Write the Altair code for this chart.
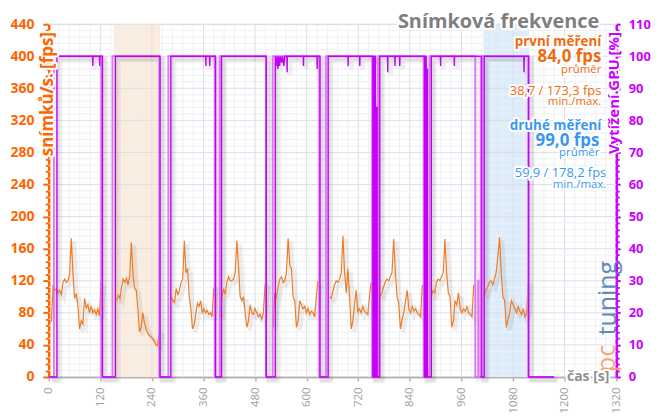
import altair as alt
import numpy as np
import pandas as pd

FONT = "Open Sans"

# ---------------- data ----------------
run_starts = [6.2, 158, 285, 399, 522, 653.5, 771, 890, 1013]
run_ends = [121.8, 260.5, 387.6, 507, 626.4, 749.8, 869, 988.6, 1115.8]

fps_run1 = [69, 115, 108, 110, 105, 108, 103, 118, 122, 118, 120, 128, 173, 130, 98, 104,
            88, 60, 70, 66, 98, 86, 90, 80, 88, 80, 84, 78, 85, 76, 119]
fps_run2 = [95, 102, 98, 112, 122, 118, 123, 115, 126, 168, 128, 110, 108, 85, 56, 62,
            80, 68, 60, 55, 52, 50, 48, 45, 40, 39, 52, 58]
fps_run3 = [100, 95, 93, 110, 103, 108, 118, 122, 170, 130, 135, 100, 85, 60, 65, 78,
            92, 88, 95, 80, 85, 80, 83, 78, 80, 75, 110, 115]
fps_run4 = [75, 100, 110, 103, 118, 125, 120, 120, 122, 130, 170, 138, 100, 95, 100, 80,
            62, 70, 90, 80, 78, 85, 80, 75, 78, 72, 80, 115, 112]
fps_run5 = [62, 105, 100, 112, 122, 125, 118, 120, 130, 173, 140, 135, 100, 95, 62, 70,
            95, 90, 85, 88, 80, 85, 78, 82, 80, 75, 100, 120]
fps_run6 = [100, 98, 108, 115, 120, 118, 122, 130, 176, 130, 105, 135, 100, 60, 70, 90,
            108, 80, 85, 80, 88, 82, 80, 78, 100, 118]
fps_run7 = [100, 105, 112, 118, 122, 120, 125, 130, 172, 130, 100, 92, 60, 72, 80, 95,
            108, 85, 80, 88, 82, 85, 80, 78, 75, 115]
fps_run8 = [100, 108, 105, 118, 122, 120, 125, 130, 172, 130, 105, 100, 62, 70, 95, 90,
            105, 85, 80, 85, 82, 88, 80, 78, 75, 115]
fps_run9 = [100, 108, 112, 118, 120, 115, 122, 130, 150, 174, 130, 100, 95, 62, 72, 80,
            95, 90, 85, 80, 88, 82, 78, 85, 75, 80, 120]
fps_runs = [fps_run1, fps_run2, fps_run3, fps_run4, fps_run5, fps_run6, fps_run7, fps_run8, fps_run9]

gpu1_t = [0, 19, 19, 102, 102.5, 103, 118, 118.5, 119, 125, 125,
          155, 155, 259, 259,
          284, 284, 365, 365.5, 366, 374, 374.5, 375, 388, 388,
          402, 402, 506, 506,
          527, 527, 529, 531, 533, 535, 537, 539, 542, 544, 547, 549, 554, 554.5, 555,
          592, 592.5, 593, 624, 624.5, 625, 631, 631,
          650, 650, 696, 696.5, 697, 723, 723.5, 724, 754, 754,
          755, 755, 756, 756, 757, 757, 758, 758, 759, 759, 760, 760, 763, 763, 764, 764,
          770, 770, 788, 788.5, 789, 805, 805.5, 806, 816, 816.5, 817, 874, 874,
          875, 875, 876, 876, 877, 877, 878, 878, 880, 880, 881, 881,
          890, 890, 911, 911.5, 912, 943, 943.5, 944, 1006, 1006,
          1013, 1013, 1105, 1105.5, 1106, 1116.5, 1116.5, 1176]
gpu1_v = [0, 0, 100, 100, 97, 100, 100, 97, 100, 100, 0,
          0, 100, 100, 0,
          0, 100, 100, 97, 100, 100, 97, 100, 100, 0,
          0, 100, 100, 0,
          0, 100, 97, 100, 96, 100, 97, 100, 98, 100, 97, 100, 100, 95, 100,
          100, 97, 100, 100, 96, 100, 100, 0,
          0, 100, 100, 97, 100, 100, 97, 100, 100, 0,
          0, 100, 100, 0, 0, 100, 100, 0, 0, 100, 100, 0, 0, 84, 84, 0,
          0, 100, 100, 95, 100, 100, 97, 100, 100, 97, 100, 100, 0,
          0, 100, 100, 0, 0, 100, 100, 0, 0, 96, 96, 0,
          0, 100, 100, 97, 100, 100, 97, 100, 100, 0,
          0, 100, 100, 95, 100, 100, 0, 0]

gpu2_t = [0, 12, 12, 122, 122, 148, 148, 257, 257, 278, 278, 386, 386, 398, 398, 505, 505,
          521, 521, 629, 629, 645, 645, 752, 752, 766, 766, 872, 872, 886, 886, 992, 992,
          999, 999, 1000, 1000, 1009, 1009, 1115, 1115, 1176]
gpu2_v = [0, 0, 100, 100, 0, 0, 100, 100, 0, 0, 100, 100, 0, 0, 100, 100, 0,
          0, 100, 100, 0, 0, 100, 100, 0, 0, 100, 100, 0, 0, 100, 100, 0,
          0, 30, 30, 0, 0, 100, 100, 0, 0]

band_first = [152, 259]
band_second = [1012, 1117]

x_ticks = list(range(0, 1321, 120))
x_minor = [v for v in range(0, 1321, 24) if v % 120]
fps_ticks = list(range(0, 441, 40))
fps_minor = [v for v in range(0, 441, 8) if v % 40]
gpu_ticks = list(range(0, 111, 10))
gpu_minor = [v for v in range(0, 111, 2) if v % 10]

# ---------------- frames ----------------
rows = []
for i, (s, e, vals) in enumerate(zip(run_starts, run_ends, fps_runs)):
    for t, v in zip(np.linspace(s, e, len(vals)), vals):
        rows.append({"t": float(t), "fps": v, "run": i})
fps_df = pd.DataFrame(rows)
gpu1_df = pd.DataFrame({"t": gpu1_t, "v": gpu1_v, "i": range(len(gpu1_t))})
gpu2_df = pd.DataFrame({"t": gpu2_t, "v": gpu2_v, "i": range(len(gpu2_t))})
bands_df = pd.DataFrame({"a": [band_first[0], band_second[0]], "b": [band_first[1], band_second[1]],
                         "k": ["first", "second"]})

ORANGE = "#ff6600"
MAGENTA = "#cc00ff"

xscale = alt.Scale(domain=[0, 1320], nice=False, zero=False)
fscale = alt.Scale(domain=[0, 440], nice=False, zero=False)
gscale = alt.Scale(domain=[0, 110], nice=False, zero=False)
x_axis = alt.Axis(values=x_ticks, format="d", labelAngle=270, labelColor="#a0a0a0", labelFontSize=11.5,
                  labelFont=FONT, tickColor="#b4b4b4", tickSize=4, tickWidth=1.5,
                  domainColor="#b4b4b4", domainWidth=2, grid=False, title=None,
                  labelPadding=6, labelFlush=False, labelOverlap=False, zindex=0)


def X(field):
    return alt.X(field, type="quantitative", scale=xscale, axis=x_axis)


layers = []

# background bands
layers.append(alt.Chart(bands_df).mark_rect(opacity=1).encode(
    x=X("a"), x2="b",
    color=alt.Color("k:N", scale=alt.Scale(domain=["first", "second"], range=["#fdecdb", "#dcecfb"]),
                    legend=None)))

# grid
layers.append(alt.Chart(pd.DataFrame({"v": x_minor})).mark_rule(color="#eef0f5", strokeWidth=1).encode(x=X("v")))
layers.append(alt.Chart(pd.DataFrame({"v": fps_minor})).mark_rule(color="#eef0f5", strokeWidth=1).encode(
    y=alt.Y("v:Q", scale=fscale,
            axis=alt.Axis(orient="left", values=fps_minor, labels=False, domain=False, grid=False,
                          tickColor=ORANGE, tickSize=3.5, tickWidth=2, title=None, zindex=0))))
layers.append(alt.Chart(pd.DataFrame({"v": x_ticks[1:-1]})).mark_rule(color="#dcdfe8", strokeWidth=1).encode(x=X("v")))
layers.append(alt.Chart(pd.DataFrame({"v": fps_ticks[1:]})).mark_rule(color="#dcdfe8", strokeWidth=1).encode(
    y=alt.Y("v:Q", scale=fscale,
            axis=alt.Axis(orient="left", values=fps_ticks, labelColor=ORANGE, labelFont=FONT,
                          labelFontSize=14, labelFontWeight="bold", labelPadding=9,
                          domainColor=ORANGE, domainWidth=2.5, tickColor=ORANGE, tickSize=6,
                          tickWidth=2, grid=False, title=None, zindex=0))))
layers.append(alt.Chart(pd.DataFrame({"v": gpu_minor})).mark_rule(opacity=0).encode(
    y=alt.Y("v:Q", scale=gscale,
            axis=alt.Axis(orient="right", values=gpu_minor, labels=False, domain=False, grid=False,
                          tickColor=MAGENTA, tickSize=3, tickWidth=2, title=None, zindex=0))))

# shadows
for df in [gpu2_df, gpu1_df]:
    layers.append(alt.Chart(df).mark_line(color="#000000", opacity=0.06, strokeWidth=5,
                                          xOffset=3, yOffset=3).encode(
        x=X("t"), y=alt.Y("v:Q", scale=gscale, axis=None), order="i:Q"))
layers.append(alt.Chart(fps_df).mark_line(color="#000000", opacity=0.07, strokeWidth=4,
                                          xOffset=3, yOffset=3).encode(
    x=X("t"), y=alt.Y("fps:Q", scale=fscale, axis=None), detail="run:N"))

# fps line
layers.append(alt.Chart(fps_df).mark_line(color="#f07b22", strokeWidth=1.2).encode(
    x=X("t"), y=alt.Y("fps:Q", scale=fscale, axis=None), detail="run:N"))

# GPU lines
layers.append(alt.Chart(gpu2_df).mark_line(color="#dd66ff", strokeWidth=1.8, opacity=0.9).encode(
    x=X("t"), y=alt.Y("v:Q", scale=gscale, axis=None), order="i:Q"))
layers.append(alt.Chart(gpu1_df).mark_line(color="#c400f5", strokeWidth=1.4).encode(
    x=X("t"), order="i:Q",
    y=alt.Y("v:Q", scale=gscale,
            axis=alt.Axis(orient="right", values=gpu_ticks, labelColor=MAGENTA, labelFont=FONT,
                          labelFontSize=13, labelFontWeight="bold", labelPadding=8,
                          domainColor=MAGENTA, domainWidth=2.5, tickColor=MAGENTA, tickSize=4,
                          tickWidth=2, grid=False, title=None, zindex=0))))


def label(text, x, y, size, color, weight="normal", align="right", angle=0, halo=True,
          opacity=1.0, baseline="alphabetic"):
    d = pd.DataFrame({"s": [text]})
    out = []
    kw = dict(align=align, baseline=baseline, font=FONT, fontSize=size, fontWeight=weight,
              angle=angle)
    if halo:
        out.append(alt.Chart(d).mark_text(stroke="white", strokeWidth=4, strokeJoin="round",
                                          fill="white", **kw).encode(
            x=alt.value(x), y=alt.value(y), text="s:N"))
    out.append(alt.Chart(d).mark_text(color=color, opacity=opacity, **kw).encode(
        x=alt.value(x), y=alt.value(y), text="s:N"))
    return out


OT = "#f06a10"
BT = "#3a98f2"
# logo watermark
layers += label("pc", 562, 350, 25, "#f5a06a", weight="normal", align="left", angle=270,
                halo=False, opacity=0.9, baseline="middle")
layers += label("tuning", 563, 313, 25, "#4f7fb0", weight="normal", align="left", angle=270,
                halo=False, opacity=0.9, baseline="middle")

# axis titles (inside the plot, with halo)
layers += label("snímků/s. [fps]", -1, 8, 17, ORANGE, weight="bold", align="right", angle=270,
                baseline="middle")
layers += label("Vytížení GPU [%]", 569, 8, 15, MAGENTA, weight="bold", align="right", angle=270,
                baseline="middle")

layers += label("Snímková frekvence", 554, 4, 20, "#7f7f7f", weight="bold")
layers += label("první měření", 556, 22, 13.5, OT, weight="bold")
layers += label("84,0 fps", 556, 38, 17, OT, weight="bold")
layers += label("průměr", 556, 49, 11.5, OT)
layers += label("38,7 / 173,3 fps", 556, 71, 13, OT)
layers += label("min./max.", 556, 81, 11.5, OT)
layers += label("druhé měření", 556, 106, 13.5, BT, weight="bold")
layers += label("99,0 fps", 554, 123, 17, BT, weight="bold")
layers += label("průměr", 554, 133, 11.5, BT)
layers += label("59,9 / 178,2 fps", 561, 154, 13, BT)
layers += label("min./max.", 561, 165, 11.5, BT)
layers += label("čas [s]", 564, 359, 14, "#909090", weight="bold")

chart = alt.layer(*layers).resolve_scale(y="independent", color="independent").resolve_axis(
    y="independent").properties(
    width=571, height=355,
    padding={"left": 41, "top": 15, "right": 35, "bottom": 38},
    autosize=alt.AutoSizeParams(type="none"),
).configure_view(stroke=None).configure(background="white")

chart.save("out.html", embed_options={"renderer": "svg", "actions": False})
